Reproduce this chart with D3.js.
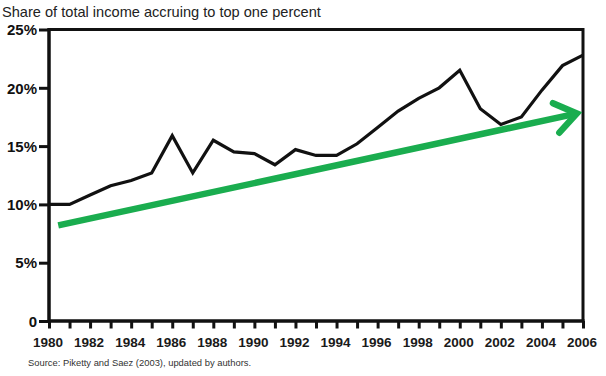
<!DOCTYPE html>
<html>
<head>
<meta charset="utf-8">
<script src="https://cdn.jsdelivr.net/npm/d3@7"></script>
<style>
body{margin:0;background:#fff;}
text{font-family:"Liberation Sans",Arial,sans-serif;}
</style>
</head>
<body>
<svg id="myGraph" width="606" height="376"></svg>
<script>
// data
var years = [1980,1981,1982,1983,1984,1985,1986,1987,1988,1989,1990,1991,1992,1993,
	1994,1995,1996,1997,1998,1999,2000,2001,2002,2003,2004,2005,2006];
var shares = [10.0,10.0,10.8,11.6,12.05,12.7,15.9,12.7,15.5,14.5,14.35,13.4,14.7,14.2,
	14.2,15.2,16.6,18.0,19.1,20.0,21.5,18.2,16.85,17.5,19.8,21.9,22.8];
var yTicks = [0,5,10,15,20,25];
var xLabels = [1980,1982,1984,1986,1988,1990,1992,1994,1996,1998,2000,2002,2004,2006];
// trend arrow (start, end) in data units
var trendYears = [1980.45,2005.7];
var trendShares = [8.2,17.8];

window.addEventListener("load",function(){
	var svg = d3.select("#myGraph");
	var left = 49, right = 583, top = 29.5, bottom = 321;

	var x = d3.scaleLinear().domain([1980,2006]).range([left,right]);
	var y = d3.scaleLinear().domain([0,25]).range([bottom,top]);

	svg.append("text")
		.attr("x",2).attr("y",17)
		.style("font-size","14.6px").style("fill","#222")
		.text("Share of total income accruing to top one percent");

	// frame top/right
	svg.append("path")
		.attr("d","M"+left+","+top+"H"+right+"V"+bottom)
		.style("fill","none").style("stroke","#111").style("stroke-width",3);

	// y axis
	var yAxis = d3.axisLeft(y).tickValues(yTicks).tickSize(10).tickPadding(2)
		.tickFormat(function(d){ return d==0 ? "0" : d+"%"; });
	var gy = svg.append("g").attr("transform","translate("+left+",0)").call(yAxis);
	gy.select(".domain").remove();
	gy.selectAll("line").style("stroke","#111").style("stroke-width",3);
	gy.selectAll("text").style("font-size","15px").style("font-weight","bold")
		.style("fill","#111").attr("dy","0.35em");

	// x axis
	var xAxis = d3.axisBottom(x).tickValues(years).tickSize(7.5).tickFormat("");
	var gx = svg.append("g").attr("transform","translate(0,"+bottom+")").call(xAxis);
	gx.select(".domain").remove();
	gx.selectAll("line").style("stroke","#111").style("stroke-width",3);

	svg.append("g").selectAll("text")
		.data(xLabels).enter().append("text")
		.attr("x",function(d){ return x(d)-1; })
		.attr("y",346.5)
		.attr("text-anchor","middle")
		.style("font-size","13.5px").style("font-weight","bold").style("fill","#1a1a1a")
		.text(function(d){ return d; });

	// axis lines
	svg.append("path")
		.attr("d","M"+left+","+(top-1.5)+"V"+bottom+"H"+(right+1.5))
		.style("fill","none").style("stroke","#111").style("stroke-width",3.5);

	// data line
	var line = d3.line()
		.x(function(d,i){ return x(years[i]); })
		.y(function(d){ return y(d); });
	svg.append("path")
		.datum(shares)
		.attr("d",line)
		.style("fill","none").style("stroke","#111").style("stroke-width",3.2)
		.style("stroke-linejoin","miter");

	// trend arrow
	var x0 = x(trendYears[0]), y0 = y(trendShares[0]);
	var x1 = x(trendYears[1]), y1 = y(trendShares[1]);
	var ang = Math.atan2(y1-y0,x1-x0);
	var hl = 26, ha = 0.62;
	var green = "#1aad4f";
	svg.append("line")
		.attr("x1",x0).attr("y1",y0).attr("x2",x1-3*Math.cos(ang)).attr("y2",y1-3*Math.sin(ang))
		.style("stroke",green).style("stroke-width",6.5);
	svg.append("path")
		.attr("d","M"+(x1-hl*Math.cos(ang-ha))+","+(y1-hl*Math.sin(ang-ha))+
			"L"+x1+","+y1+
			"L"+(x1-hl*Math.cos(ang+ha))+","+(y1-hl*Math.sin(ang+ha)))
		.style("fill","none").style("stroke",green).style("stroke-width",6.5)
		.style("stroke-linecap","round").style("stroke-linejoin","miter");

	svg.append("text")
		.attr("x",28).attr("y",366)
		.style("font-size","9.4px").style("fill","#333")
		.text("Source: Piketty and Saez (2003), updated by authors.");
});
</script>
</body>
</html>
